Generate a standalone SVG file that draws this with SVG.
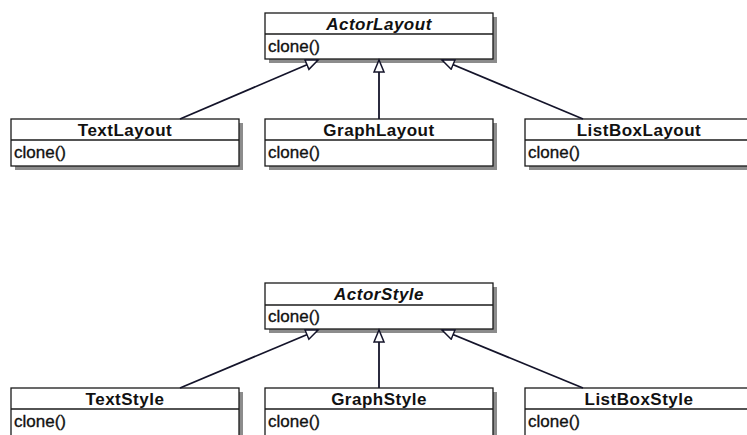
<svg xmlns="http://www.w3.org/2000/svg" width="747" height="435" viewBox="0 0 747 435">
  <style>
    .shadow { fill: #8c8c8c; }
    .box { fill: #ffffff; stroke: #1a1a1a; stroke-width: 1.3; }
    .sep { stroke: #1a1a1a; stroke-width: 1.3; }
    .name { font-family: "Liberation Sans", Arial, sans-serif; font-size: 17px; font-weight: bold; letter-spacing: 0.5px; text-anchor: middle; fill: #111; }
    .abstract { font-style: italic; }
    .op { font-family: "Liberation Sans", Arial, sans-serif; font-size: 17px; fill: #111; stroke: #111; stroke-width: 0.35; }
    .edge { stroke: #14142a; stroke-width: 1.8; fill: none; marker-end: url(#inherit); }
  </style>
  <defs>
    <!-- hollow triangle for generalization -->
    <marker id="inherit" markerUnits="userSpaceOnUse" markerWidth="15" markerHeight="13" refX="13" refY="6" orient="auto" viewBox="0 0 15 13">
      <path d="M1,1 L13,6 L1,11 Z" fill="#ffffff" stroke="#14142a" stroke-width="1.5"/>
    </marker>
  </defs>

  <rect width="747" height="435" fill="#ffffff"/>

  <!-- layout hierarchy -->
  <g id="ActorLayout">
    <rect class="shadow" x="269" y="17" width="228" height="46"/>
    <rect class="box" x="265" y="13" width="228" height="46"/>
    <line class="sep" x1="265" y1="34" x2="493" y2="34"/>
    <text class="name abstract" x="379" y="29.5">ActorLayout</text>
    <text class="op" x="268" y="52">clone()</text>
  </g>
  <g id="TextLayout">
    <rect class="shadow" x="15" y="123" width="228" height="47"/>
    <rect class="box" x="11" y="119" width="228" height="47"/>
    <line class="sep" x1="11" y1="140" x2="239" y2="140"/>
    <text class="name" x="125" y="136">TextLayout</text>
    <text class="op" x="14" y="158">clone()</text>
  </g>
  <g id="GraphLayout">
    <rect class="shadow" x="269" y="123" width="228" height="47"/>
    <rect class="box" x="265" y="119" width="228" height="47"/>
    <line class="sep" x1="265" y1="140" x2="493" y2="140"/>
    <text class="name" x="379" y="136">GraphLayout</text>
    <text class="op" x="268" y="158">clone()</text>
  </g>
  <g id="ListBoxLayout">
    <rect class="shadow" x="529" y="123" width="228" height="47"/>
    <rect class="box" x="525" y="119" width="228" height="47"/>
    <line class="sep" x1="525" y1="140" x2="753" y2="140"/>
    <text class="name" x="639" y="136">ListBoxLayout</text>
    <text class="op" x="528" y="158">clone()</text>
  </g>

  <!-- style hierarchy -->
  <g id="ActorStyle">
    <rect class="shadow" x="269" y="287" width="228" height="46"/>
    <rect class="box" x="265" y="283" width="228" height="46"/>
    <line class="sep" x1="265" y1="305" x2="493" y2="305"/>
    <text class="name abstract" x="379" y="300">ActorStyle</text>
    <text class="op" x="268" y="322">clone()</text>
  </g>
  <g id="TextStyle">
    <rect class="shadow" x="15" y="392" width="228" height="50"/>
    <rect class="box" x="11" y="388" width="228" height="50"/>
    <line class="sep" x1="11" y1="409" x2="239" y2="409"/>
    <text class="name" x="125" y="405">TextStyle</text>
    <text class="op" x="14" y="427">clone()</text>
  </g>
  <g id="GraphStyle">
    <rect class="shadow" x="269" y="392" width="228" height="50"/>
    <rect class="box" x="265" y="388" width="228" height="50"/>
    <line class="sep" x1="265" y1="409" x2="493" y2="409"/>
    <text class="name" x="379" y="405">GraphStyle</text>
    <text class="op" x="268" y="427">clone()</text>
  </g>
  <g id="ListBoxStyle">
    <rect class="shadow" x="529" y="392" width="228" height="50"/>
    <rect class="box" x="525" y="388" width="228" height="50"/>
    <line class="sep" x1="525" y1="409" x2="753" y2="409"/>
    <text class="name" x="639" y="405">ListBoxStyle</text>
    <text class="op" x="528" y="427">clone()</text>
  </g>

  <!-- generalization connectors -->
  <g id="connectors">
    <line class="edge" x1="180" y1="119" x2="318" y2="60"/>
    <line class="edge" x1="379" y1="119" x2="379" y2="60"/>
    <line class="edge" x1="583" y1="119" x2="442" y2="60"/>
    <line class="edge" x1="180" y1="388" x2="318" y2="330"/>
    <line class="edge" x1="379" y1="388" x2="379" y2="330"/>
    <line class="edge" x1="583" y1="388" x2="442" y2="330"/>
  </g>
</svg>
